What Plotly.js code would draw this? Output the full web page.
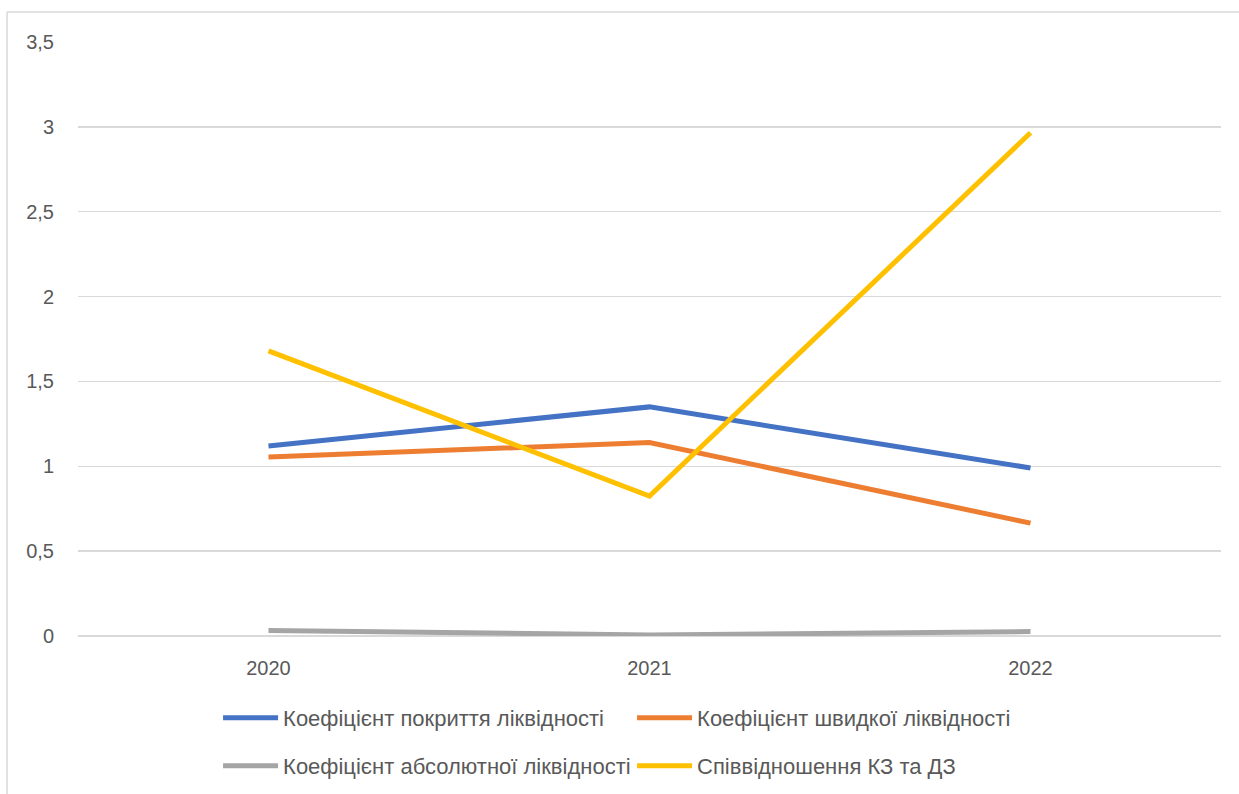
<!DOCTYPE html>
<html>
<head>
<meta charset="utf-8">
<script src="https://cdn.plot.ly/plotly-3.0.1.min.js"></script>
<style>html,body{margin:0;padding:0;background:#fff;}#chart{width:1239px;height:794px;}</style>
</head>
<body>
<div id="chart"></div>
<script>
const years = ['2020', '2021', '2022'];
const seriesNames = [
  'Коефіцієнт покриття ліквідності',
  'Коефіцієнт швидкої ліквідності',
  'Коефіцієнт абсолютної ліквідності',
  'Співвідношення КЗ та ДЗ'
];
const coverage = [1.12, 1.35, 0.99];
const quick = [1.055, 1.14, 0.665];
const absolute = [0.033, 0.006, 0.026];
const payablesToReceivables = [1.68, 0.825, 2.965];
const seriesColors = ['#4472C4', '#ED7D31', '#A5A5A5', '#FFC000'];
const seriesValues = [coverage, quick, absolute, payablesToReceivables];
const legendOf = ['legend', 'legend', 'legend2', 'legend2'];

const FONT = 'Liberation Sans, Arial, sans-serif';
const TXT = '#595959';

const traces = seriesValues.map((vals, i) => ({
  type: 'scatter',
  mode: 'lines',
  x: years,
  y: vals,
  name: seriesNames[i],
  legend: legendOf[i],
  line: { color: seriesColors[i], width: 5 },
  hoverinfo: 'skip'
}));

const legendCommon = {
  orientation: 'h',
  xref: 'container',
  yref: 'container',
  xanchor: 'left',
  yanchor: 'middle',
  x: 0.176,
  entrywidth: 344,
  entrywidthmode: 'pixels',
  itemwidth: 55,
  font: { family: FONT, size: 22, color: TXT },
  bgcolor: 'rgba(0,0,0,0)',
  traceorder: 'normal'
};

const layout = {
  width: 1239,
  height: 794,
  margin: { l: 78, r: 18, t: 42, b: 158 },
  paper_bgcolor: '#ffffff',
  plot_bgcolor: '#ffffff',
  separators: ', ',
  showlegend: true,
  xaxis: {
    type: 'category',
    range: [-0.5, 2.5],
    showgrid: false,
    zeroline: false,
    showline: false,
    ticks: 'outside',
    ticklen: 14,
    tickcolor: 'rgba(0,0,0,0)',
    tickfont: { family: FONT, size: 20, color: TXT },
    fixedrange: true
  },
  yaxis: {
    range: [0, 3.5],
    dtick: 0.5,
    tick0: 0,
    showgrid: true,
    gridcolor: '#d9d9d9',
    gridwidth: 1.5,
    zeroline: true,
    zerolinecolor: '#d9d9d9',
    zerolinewidth: 1.5,
    showline: false,
    ticks: 'outside',
    ticklen: 19,
    tickcolor: 'rgba(0,0,0,0)',
    tickfont: { family: FONT, size: 20, color: TXT },
    fixedrange: true
  },
  legend: Object.assign({}, legendCommon, { y: 0.0957 }),
  legend2: Object.assign({}, legendCommon, { y: 0.0353 }),
  shapes: [
    { type: 'line', xref: 'paper', yref: 'paper', x0: -0.0621, x1: 1.02, y0: 1.0506, y1: 1.0506, line: { color: '#d9d9d9', width: 1.5 } },
    { type: 'line', xref: 'paper', yref: 'paper', x0: -0.0621, x1: -0.0621, y0: 1.0506, y1: -0.3, line: { color: '#d9d9d9', width: 1.5 } }
  ]
};

Plotly.newPlot('chart', traces, layout, { staticPlot: true, displayModeBar: false });
</script>
</body>
</html>
